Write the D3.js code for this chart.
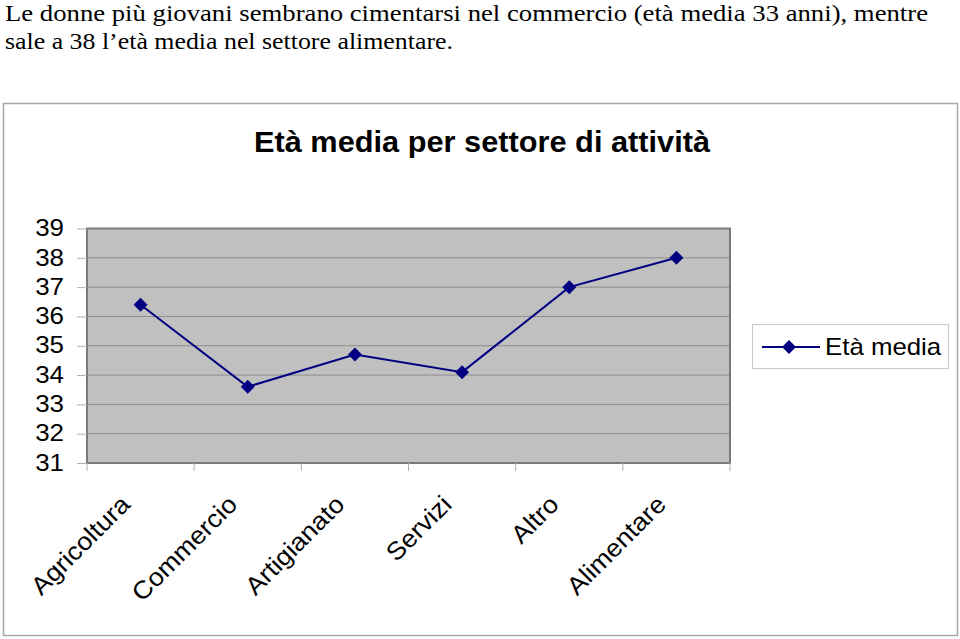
<!DOCTYPE html>
<html><head><meta charset="utf-8">
<script src="https://cdn.jsdelivr.net/npm/d3@7"></script>
<style>body{margin:0;background:#fff}svg{display:block}</style>
</head><body>
<svg id="c" width="960" height="639"></svg>
<script>
const categories = ["Agricoltura","Commercio","Artigianato","Servizi","Altro","Alimentare"];
const values = [36.4, 33.6, 34.7, 34.1, 37.0, 38.0];
const yTicks = [31,32,33,34,35,36,37,38,39];
const seriesName = "Età media";
const chartTitle = "Età media per settore di attività";
const introLines = ["Le donne più giovani sembrano cimentarsi nel commercio (età media 33 anni), mentre",
                    "sale a 38 l\u2019età media nel settore alimentare."];

const SANS = "'Liberation Sans',Arial,sans-serif";
const svg = d3.select("#c");

// stretch text horizontally by factor k (matches the wide glyphs of the reference)
function stretch(sel, k){
  sel.each(function(){
    const w = this.getComputedTextLength();
    d3.select(this).attr("textLength", w*k).attr("lengthAdjust","spacingAndGlyphs");
  });
}

// intro text
const introW = [923, 448];
svg.selectAll("text.intro").data(introLines).join("text")
  .attr("class","intro").attr("x",5).attr("y",(d,i)=>20.5+i*28.5)
  .attr("font-family","'Liberation Serif','Times New Roman',serif").attr("font-size",22.5)
  .attr("fill","#000").attr("textLength",(d,i)=>introW[i]).attr("lengthAdjust","spacingAndGlyphs")
  .text(d=>d);

// chart frame
svg.append("rect").attr("x",3.5).attr("y",103.5).attr("width",954).attr("height",532)
  .attr("fill","#fff").attr("stroke","#a8a8a8").attr("stroke-width",1.5);

svg.append("text").attr("x",482).attr("y",152).attr("text-anchor","middle")
  .attr("font-family",SANS).attr("font-weight","bold")
  .attr("font-size",29).text(chartTitle).call(stretch,1.06);

const L=87, R=730, T=228.5, B=463;
const x = d3.scaleBand().domain(categories).range([L,R]);
const y = d3.scaleLinear().domain([31,39]).range([B,T]);

svg.append("rect").attr("x",L).attr("y",T).attr("width",R-L).attr("height",B-T).attr("fill","#c0c0c0");
// gridlines
svg.append("g").selectAll("line").data(yTicks.slice(1,-1)).join("line")
  .attr("x1",L).attr("x2",R).attr("y1",d=>y(d)).attr("y2",d=>y(d))
  .attr("stroke","#8c8c8c").attr("stroke-width",1);
svg.append("rect").attr("x",L).attr("y",T).attr("width",R-L).attr("height",B-T)
  .attr("fill","none").attr("stroke","#7a7a7a").attr("stroke-width",2);

// y axis
const yAxis = svg.append("g").attr("transform",`translate(${L},0)`)
  .call(d3.axisLeft(y).tickValues(yTicks).tickSize(10).tickPadding(13).tickFormat(d3.format("d")));
yAxis.select(".domain").remove();
yAxis.selectAll("line").attr("stroke","#b0b0b0");
yAxis.selectAll("text").attr("font-family",SANS)
  .attr("font-size",24).attr("fill","#000").attr("dy","0.3em").call(stretch,1.08);

// x axis ticks at category boundaries
const bounds = categories.map(c=>x(c)).concat([R]);
svg.append("g").selectAll("line").data(bounds).join("line")
  .attr("x1",d=>d).attr("x2",d=>d).attr("y1",B).attr("y2",B+8)
  .attr("stroke","#b0b0b0");
svg.append("g").selectAll("text").data(categories).join("text")
  .attr("transform",d=>`translate(${x(d)+x.bandwidth()/2-9},${B+43}) rotate(-45)`)
  .attr("text-anchor","end")
  .attr("font-family",SANS).attr("font-size",25)
  .attr("fill","#000").text(d=>d).call(stretch,1.07);

// line
const cx = (d,i)=>x(categories[i])+x.bandwidth()/2;
svg.append("path").datum(values)
  .attr("d",d3.line().x(cx).y(d=>y(d)))
  .attr("fill","none").attr("stroke","#000080").attr("stroke-width",2);
svg.append("g").selectAll("path").data(values).join("path")
  .attr("d","M0,-7L7,0L0,7L-7,0Z")
  .attr("transform",(d,i)=>`translate(${cx(d,i)},${y(d)})`)
  .attr("fill","#000080");

// legend
svg.append("rect").attr("x",752.5).attr("y",324.5).attr("width",196).attr("height",44)
  .attr("fill","#fff").attr("stroke","#c8c8c8");
svg.append("line").attr("x1",762).attr("x2",820).attr("y1",347).attr("y2",347)
  .attr("stroke","#000080").attr("stroke-width",2);
svg.append("path").attr("d","M0,-7L7,0L0,7L-7,0Z").attr("transform","translate(789,347)").attr("fill","#000080");
svg.append("text").attr("x",825).attr("y",355)
  .attr("font-family",SANS).attr("font-size",24)
  .text(seriesName).call(stretch,1.075);
</script>
</body></html>
